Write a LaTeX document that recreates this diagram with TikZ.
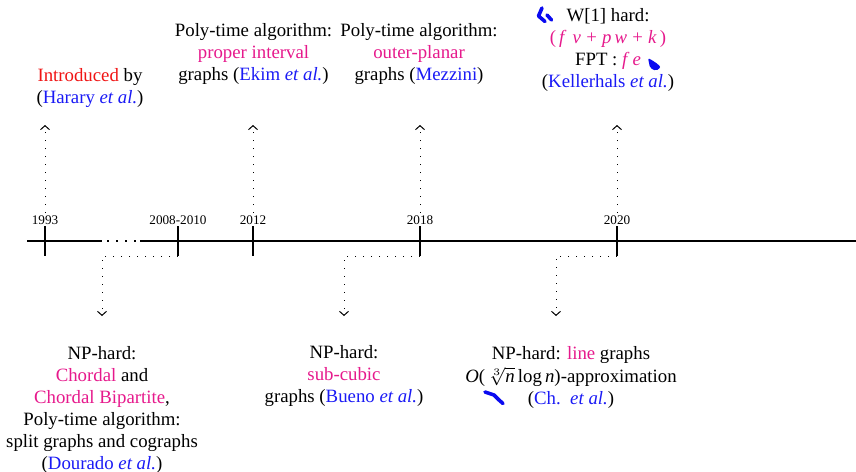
\documentclass[tikz,border=0pt]{standalone}
\usepackage{fontspec}
\setmainfont{Liberation Serif}
\usetikzlibrary{arrows.meta}
\definecolor{pk}{HTML}{E6198C}
\definecolor{bl}{HTML}{1A1AF5}
\definecolor{rd}{HTML}{F01414}
\definecolor{blobc}{HTML}{0A0AF0}
\begin{document}
\begin{tikzpicture}[x=0.5pt,y=-0.5pt,
  txt/.style={align=center, font=\fontsize{9.4}{11}\selectfont, inner sep=0pt},
  yr/.style={font=\fontsize{6.6}{8}\selectfont, inner sep=1pt},
  axisline/.style={line width=1pt},
  tickline/.style={line width=1pt},
  conn/.style={line width=0.5pt, dash pattern=on 0.5pt off 3.5pt,
    -{Straight Barb[length=2pt,width=4.5pt]}},
  blobline/.style={blobc, line width=1.8pt, line cap=round, line join=round}]
\useasboundingbox (0,0) rectangle (856,471);
% axis
\draw[axisline] (27,241) -- (102,241);
\draw[line width=1pt, dash pattern=on 1pt off 3.5pt] (107,241) -- (136,241);
\draw[axisline] (140,241) -- (856,241);
% ticks
\foreach \n/\x in {1/45,2/178,3/253,4/420,5/617}{
  \coordinate (t\n t) at (\x,226);
  \coordinate (t\n b) at (\x,256);
  \draw[tickline] (t\n t) -- (t\n b);
}
% years
\node[yr] (y1) at (45,220) {1993};
\node[yr] (y2) at (178,220) {2008-2010};
\node[yr] (y3) at (253,220) {2012};
\node[yr] (y4) at (420,220) {2018};
\node[yr] (y5) at (617,220) {2020};
% arrow ends
\coordinate (u1) at (45,125);
\coordinate (u3) at (253,125);
\coordinate (u4) at (420,125);
\coordinate (u5) at (617,125);
\coordinate (d2) at (102,316);
\coordinate (d4) at (344,316);
\coordinate (d5) at (556,316);
% connectors
\draw[conn] (y1.north) -- (u1);
\draw[conn] (y3.north) -- (u3);
\draw[conn] (y4.north) -- (u4);
\draw[conn] (y5.north) -- (u5);
\draw[conn] (t2b) -| (d2);
\draw[conn] (t4b) -| (d4);
\draw[conn] (t5b) -| (d5);
% texts top
\node[txt] (n1) at (90,88) {\textcolor{rd}{Introduced} by\\(\textcolor{bl}{Harary \textit{et al.}})};
\node[txt] (n3) at (253.5,54.5) {Poly-time algorithm:\\\textcolor{pk}{proper interval}\\graphs (\textcolor{bl}{Ekim \textit{et al.}})};
\node[txt] (n4) at (419,54.5) {Poly-time algorithm:\\\textcolor{pk}{outer-planar}\\graphs (\textcolor{bl}{Mezzini})};
\node[txt] (n5) at (608,50) {W[1] hard:\\\textcolor{pk}{(\,\textit{f\;\,v}\;+\;\textit{p\,w}\;+\;\textit{k}\,)}\\FPT : \textcolor{pk}{\textit{f\;e}}\\(\textcolor{bl}{Kellerhals \textit{et al.}})};
% texts bottom
\node[txt] (n2) at (102,409.5) {NP-hard:\\\textcolor{pk}{Chordal} and\\\textcolor{pk}{Chordal Bipartite},\\Poly-time algorithm:\\split graphs and cographs\\(\textcolor{bl}{Dourado \textit{et al.}})};
\node[txt] (n6) at (344,376) {NP-hard:\\\textcolor{pk}{sub-cubic}\\graphs (\textcolor{bl}{Bueno \textit{et al.}})};
\node[txt] (n7) at (571,377) {NP-hard: \textcolor{pk}{line} graphs\\[0.5pt]\textit{O}(\,$\sqrt[3]{\textit{n}}$\,log\,\textit{n})-approximation\\(\textcolor{bl}{Ch.\ \ \textit{et al.}})};
% stray blue marks
\draw[blobline] (542,8) -- (538.5,16) -- (545,21.5);
\draw[blobline] (547,15) -- (551.5,20);
\fill[blobc, rounded corners=1pt] (648,58) -- (655,62) -- (661,67) -- (656,71) -- (650,68) -- cycle;
\draw[blobline] (485,392) -- (494,395) -- (499,400) -- (503,403.5);
\end{tikzpicture}
\end{document}
